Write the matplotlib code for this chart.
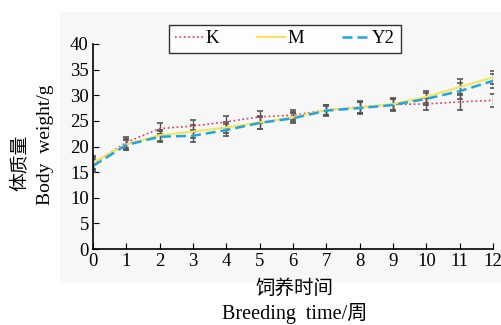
import numpy as np
import matplotlib.pyplot as plt
from matplotlib.patches import Rectangle

plt.rcParams['font.family'] = ['Liberation Serif', 'Noto Sans CJK SC']

weeks = np.arange(0, 13)
k_weight = [16.6, 20.8, 23.5, 24.0, 24.8, 25.8, 26.1, 27.1, 27.7, 28.2, 28.3, 28.7, 29.0]
m_weight = [16.9, 20.4, 22.2, 22.9, 23.7, 24.7, 25.7, 27.1, 27.6, 28.3, 29.7, 31.6, 33.5]
y2_weight = [16.2, 20.3, 21.9, 22.1, 23.2, 24.6, 25.5, 27.0, 27.5, 28.1, 29.3, 30.8, 32.8]
err = [1.2, 1.0, 1.1, 1.2, 1.1, 1.2, 1.0, 1.0, 1.1, 1.1, 1.2, 1.5, 1.3]

fig = plt.figure(figsize=(5.02, 3.25), dpi=100)
fig.patches.append(Rectangle((60 / 502, 1 - 282 / 325), 442 / 502, 270 / 325,
                             transform=fig.transFigure, facecolor='#f7f7f7',
                             edgecolor='none', zorder=-5))
ax = fig.add_axes([93 / 502, 76 / 325, 400 / 502, 205 / 325])
ax.patch.set_alpha(0)

ebkw = dict(ecolor='#555555', elinewidth=1.0, capsize=2, capthick=1.2)
ax.errorbar(weeks, k_weight, yerr=err, color='#e8364a', ls=':', lw=1.2, label='K', **ebkw)
ax.errorbar(weeks, m_weight, yerr=err, color='#f5e35a', ls='-', lw=1.5, label='M', **ebkw)
ax.errorbar(weeks, y2_weight, yerr=err, color='#1ea6e0', ls=(0, (4, 2)), lw=1.8, label='Y2', **ebkw)

ax.set_xlim(0, 12)
ax.set_ylim(0, 40)
ax.set_xticks(range(0, 13))
ax.set_yticks(range(0, 41, 5))
ax.spines['top'].set_visible(False)
ax.spines['right'].set_visible(False)
ax.spines['left'].set_linewidth(1.2)
ax.spines['bottom'].set_linewidth(1.2)
ax.tick_params(direction='in', length=4, labelsize=13.5, pad=3)

fig.text(295 / 502, 1 - 289 / 325, '饲养时间', fontsize=14, ha='center', va='center')
fig.text(295 / 502, 1 - 314 / 325, 'Breeding  time/周', fontsize=14.5, ha='center', va='center')
fig.text(20 / 502, 1 - 163 / 325, '体质量', fontsize=13.5, ha='center', va='center', rotation=90)
fig.text(46 / 502, 1 - 145 / 325, 'Body  weight/g', fontsize=14, ha='center', va='center', rotation=90)

handles, labels = ax.get_legend_handles_labels()
handles = [h[0] for h in handles]
leg = ax.legend(handles, labels, loc='upper center', bbox_to_anchor=(0.48, 1.095), ncol=3,
                fontsize=13.5, frameon=True, fancybox=False, edgecolor='black',
                handlelength=1.5, columnspacing=2.05, borderpad=0.3, handletextpad=0.1,
                borderaxespad=0)
leg.get_frame().set_linewidth(1.0)
leg.get_frame().set_facecolor('white')

fig.savefig('out.png', dpi=100)
